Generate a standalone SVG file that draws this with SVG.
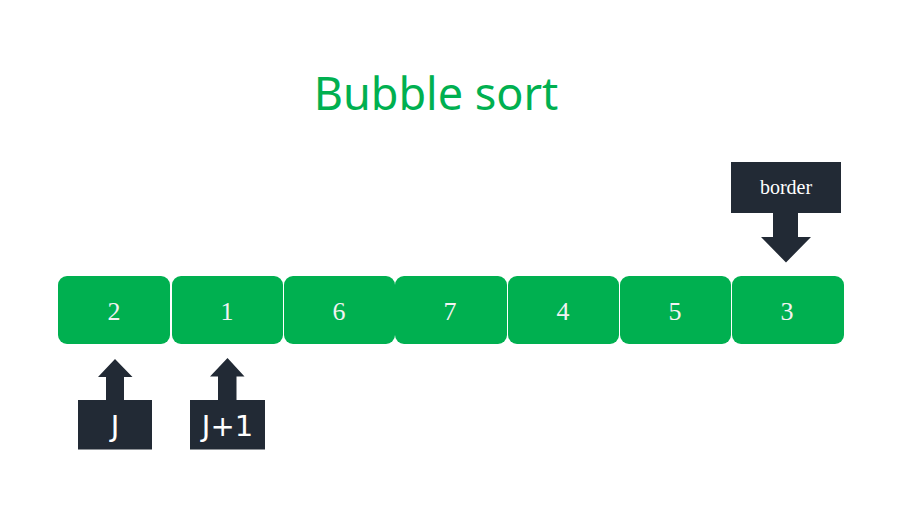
<svg xmlns="http://www.w3.org/2000/svg" width="922" height="524" viewBox="0 0 922 524">
<style>
.cell{fill:#00b050}
.num{font-family:"Liberation Serif",serif;font-size:26px;fill:#f2f2f2;text-anchor:middle}
.dark{fill:#222a35}
.lab{font-family:"DejaVu Sans",sans-serif;font-size:29px;fill:#ffffff;text-anchor:middle}
</style>
<rect width="922" height="524" fill="#ffffff"/>
<text x="436" y="110" font-family="'Noto Sans','DejaVu Sans',sans-serif" font-size="45" fill="#00b050" text-anchor="middle">Bubble sort</text>
<g id="n0"><rect class="cell" x="58" y="276" width="112" height="68" rx="9"/><text class="num" x="114" y="320">2</text></g>
<g id="n1"><rect class="cell" x="172" y="276" width="111" height="68" rx="9"/><text class="num" x="227" y="320">1</text></g>
<g id="n2"><rect class="cell" x="284" y="276" width="111" height="68" rx="9"/><text class="num" x="339" y="320">6</text></g>
<g id="n3"><rect class="cell" x="395" y="276" width="112" height="68" rx="9"/><text class="num" x="450" y="320">7</text></g>
<g id="n4"><rect class="cell" x="508" y="276" width="111" height="68" rx="9"/><text class="num" x="563" y="320">4</text></g>
<g id="n5"><rect class="cell" x="620" y="276" width="111" height="68" rx="9"/><text class="num" x="675" y="320">5</text></g>
<g id="n6"><rect class="cell" x="732" y="276" width="112" height="68" rx="9"/><text class="num" x="787" y="320">3</text></g>
<g id="border">
<rect class="dark" x="731" y="162" width="110" height="51"/>
<polygon class="dark" points="773,212 798,212 798,237 811,237 786,262.5 761,237 773,237"/>
<text x="786" y="194" font-family="'Liberation Serif',serif" font-size="20" fill="#ffffff" text-anchor="middle">border</text>
</g>
<g id="j">
<polygon class="dark" points="115,359 132.5,377 124,377 124,401 106,401 106,377 98,377"/>
<rect class="dark" x="78" y="400" width="74" height="49.5"/>
<text class="lab" x="115" y="436">J</text>
</g>
<g id="j1">
<polygon class="dark" points="227.5,358 244.5,376.5 236.5,376.5 236.5,401 218,401 218,376.5 210,376.5"/>
<rect class="dark" x="190" y="400" width="75" height="49.5"/>
<text class="lab" x="227.5" y="436">J+1</text>
</g>
<g id="connectors"></g>
</svg>
